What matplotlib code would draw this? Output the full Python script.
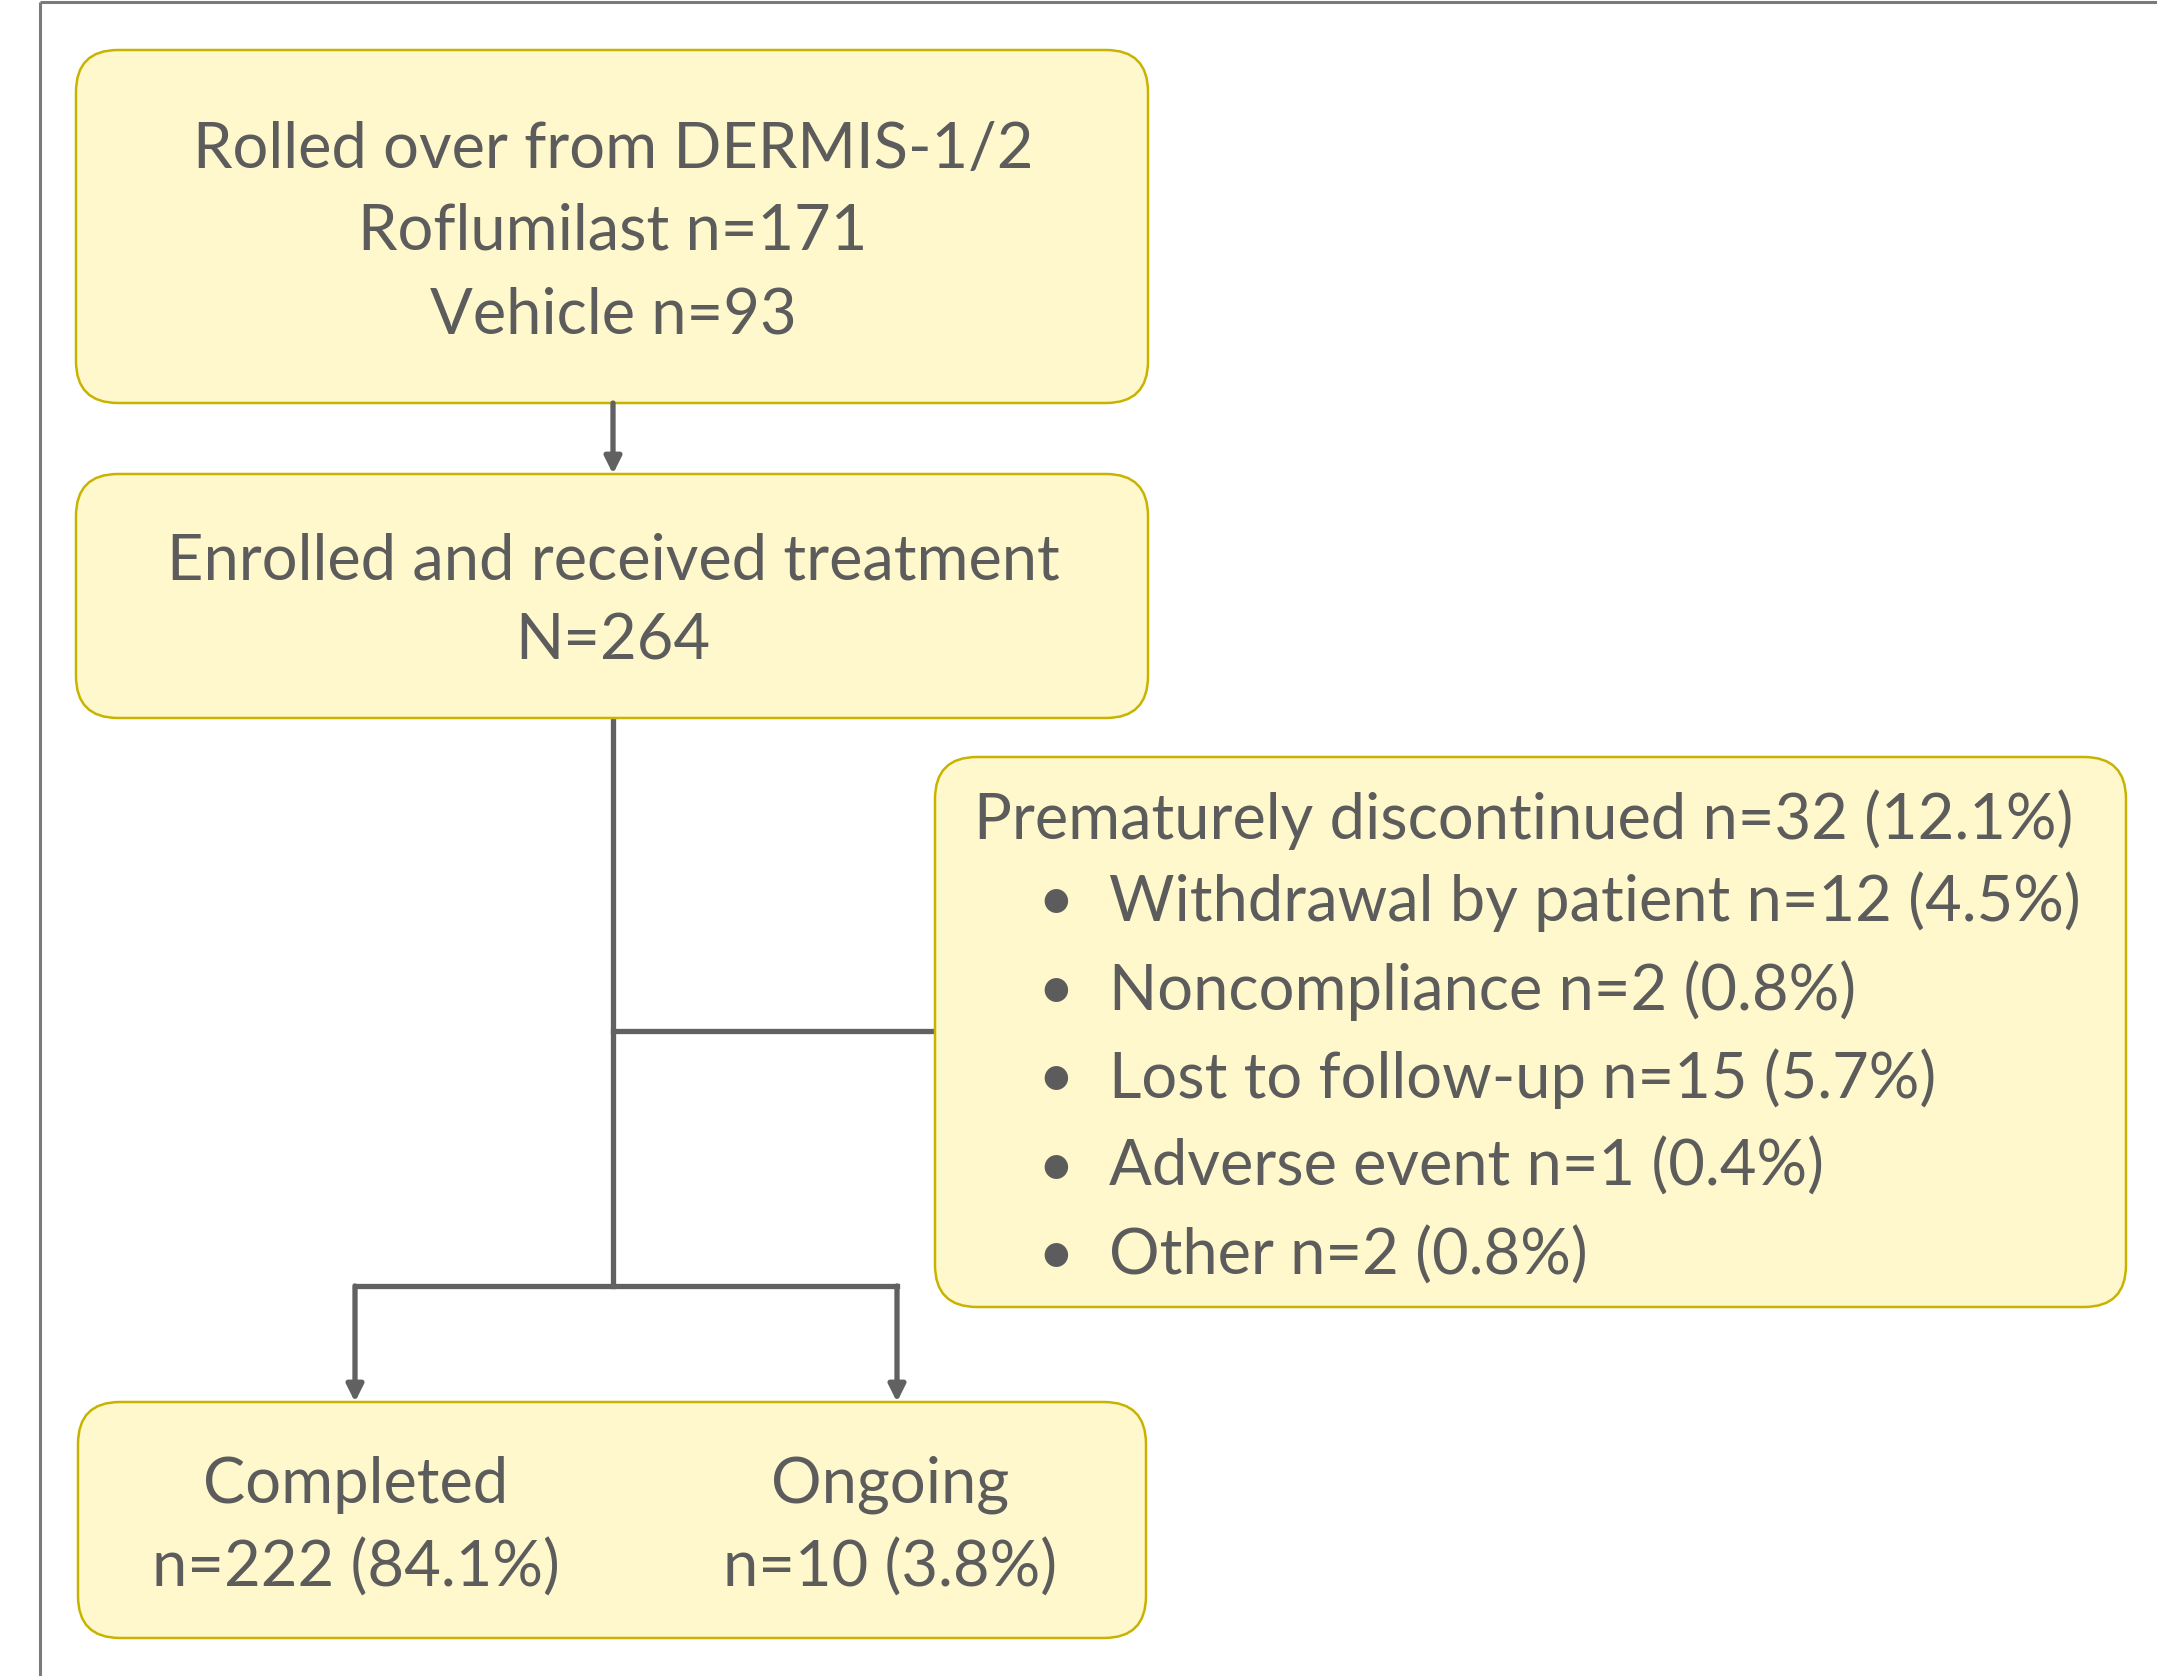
import matplotlib.pyplot as plt
from matplotlib.patches import FancyBboxPatch

# data
source_study = "DERMIS-1/2"
rolled_groups = ["Roflumilast", "Vehicle"]
rolled_counts = [171, 93]
enrolled_n = 264
discontinued_n = 32
discontinued_pct = 12.1
reasons = ["Withdrawal by patient", "Noncompliance", "Lost to follow-up",
           "Adverse event", "Other"]
reason_counts = [12, 2, 15, 1, 2]
reason_pcts = [4.5, 0.8, 5.7, 0.4, 0.8]
outcomes = ["Completed", "Ongoing"]
outcome_counts = [222, 10]
outcome_pcts = [84.1, 3.8]

W, H = 2157, 1676
FILL = '#fff8cc'
EDGE = '#c8b400'
LINE = '#616161'
TXT = '#5c5c5c'
FONT = 'Lato'
FS = 45.5

fig = plt.figure(figsize=(W / 100, H / 100), dpi=100)
ax = fig.add_axes([0, 0, 1, 1])
ax.set_xlim(0, W)
ax.set_ylim(H, 0)
ax.axis('off')

# outer frame (top and left)
ax.plot([40, W], [2, 2], color='#7a7a7a', lw=2.2, solid_capstyle='butt')
ax.plot([40, 40], [2, H], color='#7a7a7a', lw=2.2, solid_capstyle='butt')


def box(x0, y0, x1, y1):
    p = FancyBboxPatch((x0, y0), x1 - x0, y1 - y0,
                       boxstyle='round,pad=0,rounding_size=42',
                       fc=FILL, ec=EDGE, lw=1.8, zorder=2)
    ax.add_patch(p)


def arrow(x, y0, y1):
    ax.annotate('', xy=(x, y1), xytext=(x, y0),
                arrowprops=dict(arrowstyle='-|>,head_length=1.0,head_width=0.5',
                                color=LINE, lw=3.8, shrinkA=0, shrinkB=0),
                zorder=3)


def seg(xs, ys):
    ax.plot(xs, ys, color=LINE, lw=3.8, solid_capstyle='projecting',
            solid_joinstyle='miter', zorder=1)


# boxes
box(76, 50, 1148, 403)
box(76, 474, 1148, 718)
box(935, 757, 2126, 1307)
box(78, 1402, 1146, 1638)

# connectors
arrow(613, 403, 474)
seg([613, 613], [718, 1286])
seg([613, 935], [1031, 1031])
seg([355, 897], [1286, 1286])
arrow(355, 1286, 1402)
arrow(897, 1286, 1402)

kw = dict(color=TXT, fontsize=FS, family=FONT, zorder=4, va='center')
dy = 4

# box 1
lines1 = [f"Rolled over from {source_study}"] + \
    [f"{g} n={c}" for g, c in zip(rolled_groups, rolled_counts)]
for t, y in zip(lines1, [146, 228, 312]):
    ax.text(613, y + dy, t, ha='center', **kw)

# box 2
ax.text(613, 557 + dy, "Enrolled and received treatment", ha='center', **kw)
ax.text(613, 637 + dy, f"N={enrolled_n}", ha='center', **kw)

# box 3
ax.text(974, 816 + dy, f"Prematurely discontinued n={discontinued_n} ({discontinued_pct}%)",
        ha='left', **kw)
for i, (r, c, p) in enumerate(zip(reasons, reason_counts, reason_pcts)):
    y = 898 + i * 88.5 + dy
    ax.text(1056, y, "\u2022", ha='center', **kw)
    ax.text(1109, y, f"{r} n={c} ({p}%)", ha='left', **kw)

# box 4
for x, o, c, p in zip([356, 890], outcomes, outcome_counts, outcome_pcts):
    ax.text(x, 1481 + dy, o, ha='center', **kw)
    ax.text(x, 1564 + dy, f"n={c} ({p}%)", ha='center', **kw)

fig.savefig('out.png', dpi=100, facecolor='white')
